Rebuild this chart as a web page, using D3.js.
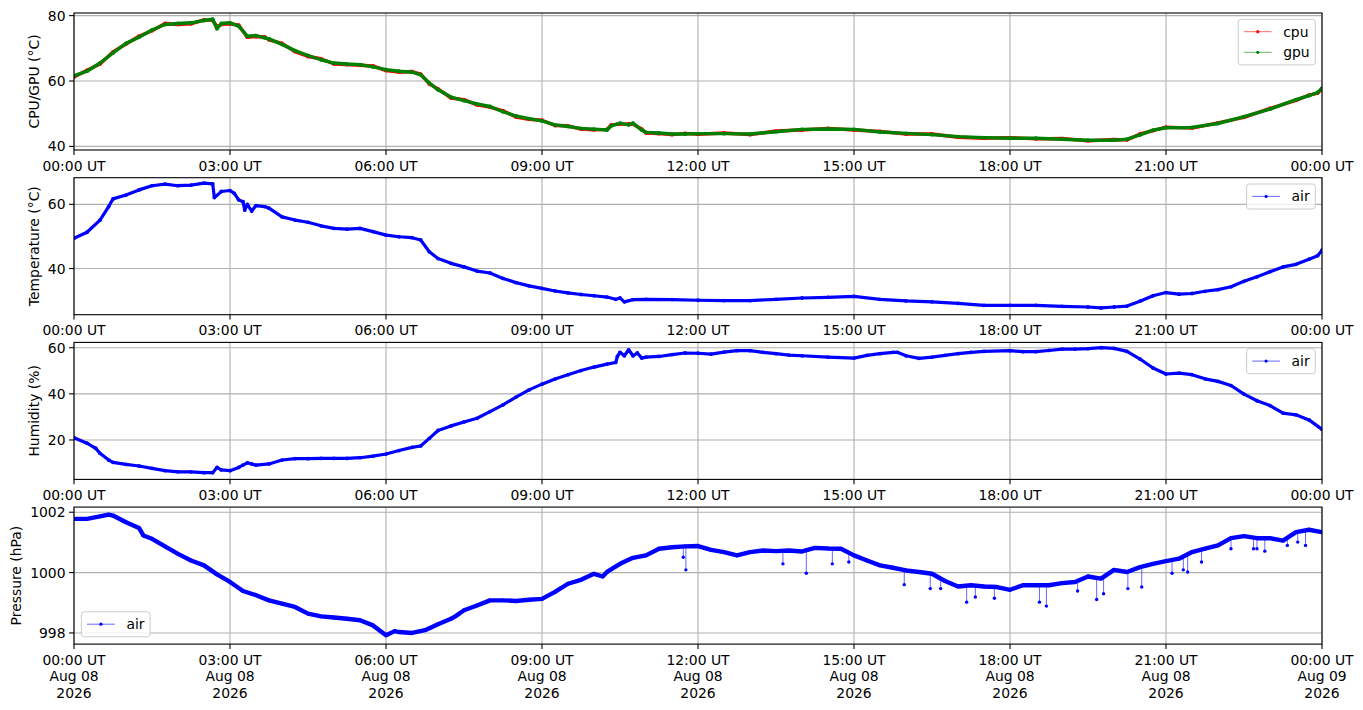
<!DOCTYPE html>
<html><head><meta charset="utf-8">
<script src="https://cdn.jsdelivr.net/npm/d3@7"></script>
<style>
body{margin:0;background:#fff}
svg{display:block}
text{font-family:"DejaVu Sans",sans-serif;font-size:13.9px;fill:#000}
</style>
</head><body>
<svg id="c" width="1363" height="710"></svg>
<script>
// ---------------- data ----------------
const xTickLabels = ["00:00 UT","03:00 UT","06:00 UT","09:00 UT","12:00 UT","15:00 UT","18:00 UT","21:00 UT","00:00 UT"];
const xDateLabels = ["Aug 08","Aug 08","Aug 08","Aug 08","Aug 08","Aug 08","Aug 08","Aug 08","Aug 09"];
const xYearLabels = ["2026","2026","2026","2026","2026","2026","2026","2026","2026"];

const cpuTicks = [40,60,80];
const tempTicks = [40,60];
const humTicks = [20,40,60];
const presTicks = [998,1000,1002];

const gpuData = [["00:00",61.6],["00:15",63.0],["00:30",65.5],["00:45",68.6],["01:00",71.5],["01:15",73.4],["01:30",75.6],["01:45",77.3],["02:00",77.6],["02:15",77.8],["02:30",78.5],["02:40",78.9],["02:45",76.0],["02:50",77.6],["03:00",77.8],["03:10",76.8],["03:20",73.7],["03:30",73.9],["03:40",73.2],["03:45",72.9],["04:00",71.2],["04:15",69.3],["04:30",67.8],["04:45",66.5],["05:00",65.5],["05:15",65.2],["05:30",65.0],["05:45",64.3],["06:00",63.5],["06:15",63.0],["06:30",62.7],["06:40",61.9],["06:50",59.4],["07:00",57.3],["07:15",55.1],["07:30",54.0],["07:45",53.0],["08:00",52.2],["08:15",50.6],["08:30",49.3],["08:45",48.5],["09:00",47.8],["09:15",46.6],["09:30",46.1],["09:45",45.5],["10:00",45.3],["10:15",45.0],["10:20",46.3],["10:30",47.1],["10:40",46.6],["10:45",47.1],["10:55",45.0],["11:00",44.3],["11:15",44.1],["11:30",43.8],["11:45",43.8],["12:00",43.9],["12:30",43.9],["13:00",43.8],["13:30",44.5],["14:00",45.2],["14:30",45.3],["15:00",45.2],["15:30",44.4],["16:00",44.0],["16:30",43.6],["17:00",43.0],["17:30",42.7],["18:00",42.5],["18:30",42.5],["19:00",42.2],["19:30",41.9],["20:00",41.9],["20:15",42.2],["20:30",43.5],["20:45",45.0],["21:00",45.7],["21:30",45.8],["22:00",47.0],["22:30",49.1],["23:00",51.4],["23:30",54.3],["23:45",55.5],["23:55",56.5],["24:00",57.8]];

const cpuData = [["00:00",61.2],["00:15",63.3],["00:30",65.2],["00:45",68.9],["01:00",71.3],["01:15",73.7],["01:30",75.4],["01:45",77.6],["02:00",77.3],["02:15",77.5],["02:30",78.7],["02:40",78.6],["02:45",76.6],["02:50",77.3],["03:00",77.5],["03:10",77.1],["03:20",73.4],["03:30",73.6],["03:40",73.5],["03:45",72.6],["04:00",71.5],["04:15",69.0],["04:30",67.5],["04:45",66.8],["05:00",65.2],["05:15",65.0],["05:30",64.8],["05:45",64.6],["06:00",63.2],["06:15",62.7],["06:30",62.9],["06:40",62.1],["06:50",59.1],["07:00",57.6],["07:15",54.8],["07:30",54.3],["07:45",52.7],["08:00",52.0],["08:15",50.9],["08:30",49.0],["08:45",48.3],["09:00",48.0],["09:15",46.4],["09:30",46.3],["09:45",45.3],["10:00",45.1],["10:15",45.2],["10:20",46.6],["10:30",46.8],["10:40",46.9],["10:45",46.8],["10:55",45.3],["11:00",44.1],["11:15",43.9],["11:30",43.6],["11:45",44.0],["12:00",43.7],["12:30",44.1],["13:00",43.6],["13:30",44.7],["14:00",45.0],["14:30",45.5],["15:00",45.0],["15:30",44.6],["16:00",43.8],["16:30",43.8],["17:00",42.8],["17:30",42.5],["18:00",42.7],["18:30",42.3],["19:00",42.4],["19:30",41.7],["20:00",42.1],["20:15",42.0],["20:30",43.8],["20:45",44.8],["21:00",45.9],["21:30",45.6],["22:00",47.2],["22:30",48.9],["23:00",51.6],["23:30",54.1],["23:45",55.7],["23:55",56.3],["24:00",57.6]];

const tempData = [["00:00",49.4],["00:15",51.3],["00:30",55.1],["00:40",59.3],["00:45",61.7],["01:00",62.9],["01:15",64.5],["01:30",65.8],["01:45",66.3],["02:00",65.8],["02:15",66.0],["02:30",66.6],["02:40",66.4],["02:42",62.1],["02:50",64.0],["03:00",64.3],["03:05",63.4],["03:10",61.4],["03:15",60.8],["03:17",58.2],["03:20",60.0],["03:25",57.9],["03:30",59.6],["03:40",59.3],["03:45",58.8],["04:00",56.1],["04:15",55.1],["04:30",54.4],["04:45",53.3],["05:00",52.5],["05:15",52.3],["05:30",52.5],["05:45",51.5],["06:00",50.4],["06:15",49.9],["06:30",49.6],["06:40",48.9],["06:50",45.2],["07:00",43.1],["07:15",41.6],["07:30",40.5],["07:45",39.2],["08:00",38.6],["08:15",36.9],["08:30",35.6],["08:45",34.6],["09:00",33.8],["09:15",33.0],["09:30",32.4],["09:45",31.9],["10:00",31.5],["10:15",31.1],["10:25",30.4],["10:30",30.8],["10:35",29.6],["10:45",30.3],["11:00",30.4],["11:30",30.3],["12:00",30.1],["12:30",30.0],["13:00",30.0],["13:30",30.4],["14:00",30.8],["14:30",31.0],["15:00",31.3],["15:30",30.4],["16:00",29.9],["16:30",29.6],["17:00",29.1],["17:30",28.5],["18:00",28.5],["18:30",28.5],["19:00",28.2],["19:30",28.0],["19:45",27.7],["20:00",28.0],["20:15",28.3],["20:30",29.8],["20:45",31.5],["21:00",32.5],["21:15",32.0],["21:30",32.2],["21:45",32.9],["22:00",33.4],["22:15",34.3],["22:30",36.0],["22:45",37.4],["23:00",39.0],["23:15",40.5],["23:30",41.3],["23:45",42.9],["23:55",44.0],["24:00",45.7]];

const humData = [["00:00",21.0],["00:15",18.6],["00:25",16.4],["00:30",14.2],["00:40",11.3],["00:45",10.3],["01:00",9.4],["01:15",8.7],["01:30",7.7],["01:45",6.7],["02:00",6.2],["02:15",6.2],["02:30",5.8],["02:40",5.8],["02:45",8.1],["02:50",7.0],["03:00",6.7],["03:10",8.1],["03:15",9.1],["03:20",10.1],["03:25",9.6],["03:30",9.1],["03:45",9.6],["04:00",11.3],["04:15",11.9],["04:30",11.9],["04:45",12.0],["05:00",12.0],["05:15",12.0],["05:30",12.3],["05:45",13.0],["06:00",13.9],["06:15",15.4],["06:30",16.8],["06:40",17.4],["06:50",20.7],["07:00",24.1],["07:15",26.1],["07:30",27.8],["07:45",29.4],["08:00",32.3],["08:15",35.2],["08:30",38.6],["08:45",41.7],["09:00",44.2],["09:15",46.4],["09:30",48.3],["09:45",50.1],["10:00",51.6],["10:15",52.9],["10:25",53.6],["10:27",56.2],["10:30",58.0],["10:35",56.5],["10:40",59.1],["10:45",56.5],["10:50",57.7],["10:55",55.5],["11:00",55.9],["11:15",56.2],["11:30",57.0],["11:45",57.7],["12:00",57.6],["12:15",57.2],["12:30",58.1],["12:45",58.7],["13:00",58.7],["13:15",58.0],["13:30",57.4],["13:45",56.8],["14:00",56.5],["14:30",55.9],["15:00",55.5],["15:15",56.7],["15:30",57.4],["15:45",58.0],["15:50",58.0],["16:00",56.5],["16:15",55.4],["16:30",55.9],["16:45",56.7],["17:00",57.4],["17:15",58.0],["17:30",58.4],["18:00",58.7],["18:15",58.3],["18:30",58.3],["18:45",58.8],["19:00",59.4],["19:15",59.4],["19:30",59.6],["19:45",60.0],["20:00",59.7],["20:15",58.4],["20:30",55.1],["20:45",51.2],["21:00",48.6],["21:15",49.0],["21:30",48.3],["21:45",46.5],["22:00",45.4],["22:15",43.6],["22:30",39.9],["22:45",37.0],["23:00",34.9],["23:15",31.6],["23:30",30.9],["23:45",28.7],["24:00",24.6]];

const presData = [["00:00",1001.78],["00:15",1001.78],["00:30",1001.86],["00:40",1001.92],["00:45",1001.89],["01:00",1001.67],["01:15",1001.48],["01:20",1001.23],["01:30",1001.12],["01:45",1000.87],["02:00",1000.62],["02:15",1000.40],["02:30",1000.24],["02:45",999.94],["03:00",999.69],["03:15",999.39],["03:30",999.25],["03:45",999.08],["04:00",998.97],["04:15",998.86],["04:30",998.64],["04:45",998.55],["05:00",998.51],["05:15",998.47],["05:30",998.42],["05:45",998.25],["06:00",997.92],["06:10",998.06],["06:15",998.03],["06:30",998.00],["06:45",998.09],["07:00",998.29],["07:15",998.47],["07:20",998.55],["07:30",998.75],["07:45",998.91],["08:00",999.08],["08:15",999.08],["08:30",999.06],["08:45",999.10],["09:00",999.13],["09:15",999.36],["09:30",999.63],["09:45",999.76],["10:00",999.96],["10:10",999.87],["10:15",1000.02],["10:30",1000.29],["10:45",1000.49],["11:00",1000.57],["11:15",1000.79],["11:30",1000.84],["11:45",1000.87],["12:00",1000.88],["12:15",1000.75],["12:30",1000.68],["12:45",1000.57],["13:00",1000.68],["13:15",1000.73],["13:30",1000.71],["13:45",1000.73],["14:00",1000.70],["14:15",1000.82],["14:30",1000.80],["14:45",1000.79],["15:00",1000.57],["15:15",1000.40],["15:30",1000.24],["15:45",1000.16],["16:00",1000.07],["16:15",1000.02],["16:30",999.96],["16:45",999.72],["17:00",999.54],["17:15",999.58],["17:30",999.54],["17:45",999.52],["18:00",999.43],["18:15",999.58],["18:30",999.58],["18:45",999.58],["19:00",999.65],["19:15",999.69],["19:30",999.87],["19:45",999.80],["20:00",1000.09],["20:15",1000.02],["20:30",1000.18],["20:45",1000.29],["21:00",1000.38],["21:15",1000.46],["21:30",1000.68],["21:45",1000.79],["22:00",1000.90],["22:15",1001.14],["22:30",1001.21],["22:45",1001.14],["23:00",1001.14],["23:15",1001.06],["23:30",1001.34],["23:45",1001.42],["24:00",1001.34]];

// pressure dips: [time, band level, dip value]
const presDips = [["11:43",1000.86,1000.51],["11:46",1000.86,1000.09],["13:38",1000.72,1000.29],["14:05",1000.72,999.98],["14:35",1000.80,1000.29],["14:54",1000.70,1000.35],["15:58",1000.08,999.60],["16:28",999.97,999.47],["16:40",999.80,999.47],["17:10",999.56,999.02],["17:20",999.57,999.19],["17:42",999.52,999.15],["18:34",999.58,999.02],["18:42",999.58,998.89],["19:18",999.70,999.39],["19:40",999.83,999.11],["19:48",999.85,999.30],["20:16",1000.02,999.47],["20:32",1000.18,999.52],["21:07",1000.42,999.98],["21:20",1000.50,1000.09],["21:25",1000.58,1000.02],["21:41",1000.76,1000.35],["22:15",1001.14,1000.79],["22:41",1001.16,1000.79],["22:45",1001.14,1000.79],["22:54",1001.14,1000.71],["23:20",1001.15,1000.90],["23:32",1001.34,1001.01],["23:41",1001.40,1000.90]];

// ---------------- layout ----------------
const svg = d3.select("#c");
const L = 74, R = 1322, H = 137;
const tops = [13, 177.7, 342.4, 507.1];
const tickLen = 4.9, lw = 1.1;

const parseT = s => { const [h,m] = s.split(":").map(Number); return new Date(Date.UTC(2026,7,8,h,m)); };
const x = d3.scaleUtc().domain([parseT("00:00"), parseT("24:00")]).range([L, R]);
const xt = x.ticks(d3.utcHour.every(3));

const panels = [
  {domain:[38.9,80.8], ticks:cpuTicks, label:"CPU/GPU (°C)", labelX:39, band:3.4,
   series:[{name:"cpu", data:cpuData, color:"#ff0000"},{name:"gpu", data:gpuData, color:"#008000"}], legend:"tr"},
  {domain:[25.6,68.3], ticks:tempTicks, label:"Temperature (°C)", labelX:39, band:3.2,
   series:[{name:"air", data:tempData, color:"#0000ff"}], legend:"tr"},
  {domain:[2.9,62.3], ticks:humTicks, label:"Humidity (%)", labelX:39, band:3.2,
   series:[{name:"air", data:humData, color:"#0000ff"}], legend:"tr"},
  {domain:[997.63,1002.17], ticks:presTicks, label:"Pressure (hPa)", labelX:21, band:4.4,
   series:[{name:"air", data:presData, color:"#0000ff", dips:presDips}], legend:"bl", full:true}
];

panels.forEach((p, i) => {
  const top = tops[i], bot = top + H;
  const y = d3.scaleLinear().domain(p.domain).range([bot, top]);
  const g = svg.append("g");
  const clipId = "clip"+i;
  svg.append("clipPath").attr("id", clipId).append("rect")
    .attr("x", L).attr("y", top).attr("width", R-L).attr("height", H);

  // grid
  g.selectAll(".vg").data(xt).join("line")
    .attr("x1", d=>x(d)).attr("x2", d=>x(d)).attr("y1", top).attr("y2", bot)
    .attr("stroke", "#b0b0b0").attr("stroke-width", lw);
  g.selectAll(".hg").data(p.ticks).join("line")
    .attr("x1", L).attr("x2", R).attr("y1", d=>y(d)).attr("y2", d=>y(d))
    .attr("stroke", "#b0b0b0").attr("stroke-width", lw);

  // data
  const dg = g.append("g").attr("clip-path", `url(#${clipId})`);
  const line = d3.line().x(d=>x(parseT(d[0]))).y(d=>y(d[1]));
  p.series.forEach(s => {
    if (s.dips) {
      dg.selectAll(null).data(s.dips).join("line")
        .attr("x1", d=>x(parseT(d[0]))).attr("x2", d=>x(parseT(d[0])))
        .attr("y1", d=>y(d[1])).attr("y2", d=>y(d[2]))
        .attr("stroke", s.color).attr("stroke-opacity", 0.6).attr("stroke-width", 1);
      dg.selectAll(null).data(s.dips).join("circle")
        .attr("cx", d=>x(parseT(d[0]))).attr("cy", d=>y(d[2])).attr("r", 1.7)
        .attr("fill", s.color);
    }
    dg.append("path").datum(s.data).attr("d", line)
      .attr("fill", "none").attr("stroke", s.color)
      .attr("stroke-width", p.band).attr("stroke-linejoin", "round").attr("stroke-linecap", "round");
    dg.selectAll(null).data(s.data).join("circle")
      .attr("cx", d=>x(parseT(d[0]))).attr("cy", d=>y(d[1])).attr("r", 1.9)
      .attr("fill", s.color);
  });

  // spine
  g.append("rect").attr("x", L).attr("y", top).attr("width", R-L).attr("height", H)
    .attr("fill", "none").attr("stroke", "#000").attr("stroke-width", lw);

  // y ticks
  const yt = g.selectAll(".yt").data(p.ticks).join("g");
  yt.append("line").attr("x1", L-tickLen).attr("x2", L).attr("y1", d=>y(d)).attr("y2", d=>y(d))
    .attr("stroke", "#000").attr("stroke-width", lw);
  yt.append("text").attr("x", L-tickLen-3.6).attr("y", d=>y(d)).attr("dy", "0.36em")
    .attr("text-anchor", "end").text(d=>d);

  // x ticks
  const xg = g.selectAll(".xt").data(xt).join("g");
  xg.append("line").attr("x1", d=>x(d)).attr("x2", d=>x(d)).attr("y1", bot).attr("y2", bot+tickLen)
    .attr("stroke", "#000").attr("stroke-width", lw);
  xg.append("text").attr("x", d=>x(d)).attr("y", bot+20.5).attr("text-anchor", "middle")
    .text((d,j)=>xTickLabels[j]);
  if (p.full) {
    xg.append("text").attr("x", d=>x(d)).attr("y", bot+37.2).attr("text-anchor", "middle")
      .text((d,j)=>xDateLabels[j]);
    xg.append("text").attr("x", d=>x(d)).attr("y", bot+53.9).attr("text-anchor", "middle")
      .text((d,j)=>xYearLabels[j]);
  }

  // y label
  g.append("text").attr("transform", `translate(${p.labelX},${top+H/2}) rotate(-90)`)
    .attr("text-anchor", "middle").text(p.label);

  // legend
  const lg = g.append("g");
  const pad = 5.6, handle = 27.8, sep = 11.6, rowH = 20.6;
  const box = lg.append("rect").attr("rx", 2.8).attr("ry", 2.8)
    .attr("fill", "#fff").attr("fill-opacity", 0.8).attr("stroke", "#cccccc").attr("stroke-width", 1);
  const texts = [];
  p.series.forEach((s, k) => {
    const t = lg.append("text").attr("dy", "0.36em").text(s.name);
    texts.push(t);
  });
  const tw = d3.max(texts, t => t.node().getComputedTextLength());
  const bw = pad + handle + sep + tw + pad;
  const bh = 4.4 + rowH * p.series.length;
  let bx, by;
  if (p.legend === "tr") { bx = R - 6.7 - bw; by = top + 6.3; }
  else { bx = L + 7.4; by = bot - 7.3 - bh; }
  box.attr("x", bx).attr("y", by).attr("width", bw).attr("height", bh);
  p.series.forEach((s, k) => {
    const cy = by + 12.4 + rowH * k;
    lg.append("line").attr("x1", bx+pad).attr("x2", bx+pad+handle).attr("y1", cy).attr("y2", cy)
      .attr("stroke", s.color).attr("stroke-opacity", 0.6).attr("stroke-width", 1);
    lg.append("circle").attr("cx", bx+pad+handle/2).attr("cy", cy).attr("r", 1.6).attr("fill", s.color);
    texts[k].attr("x", bx+pad+handle+sep).attr("y", cy);
  });
});
</script>
</body></html>
